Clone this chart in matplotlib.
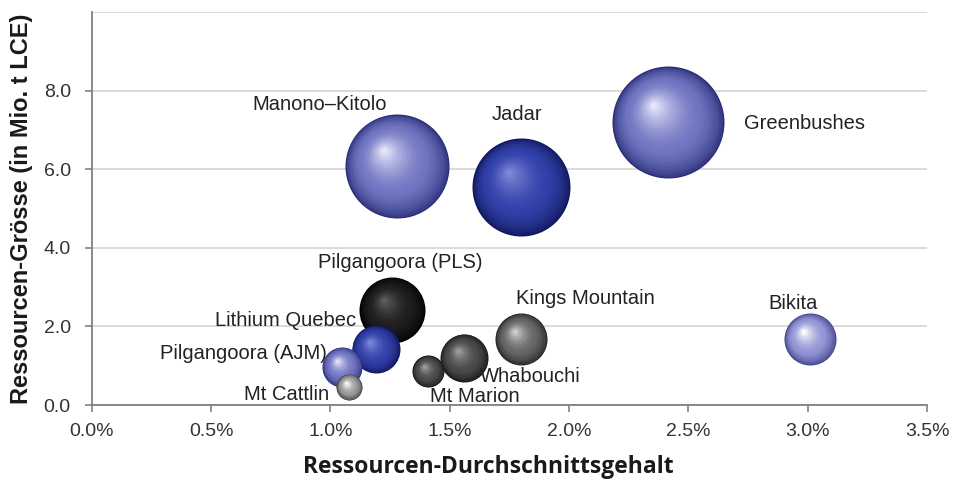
import numpy as np
import matplotlib
matplotlib.use("Agg")
import matplotlib.pyplot as plt
import matplotlib.colors as mcolors
from matplotlib.transforms import ScaledTranslation
from matplotlib.ticker import FuncFormatter, MultipleLocator, FixedLocator

# data
names = ["Manono\u2013Kitolo", "Jadar", "Greenbushes", "Pilgangoora (PLS)",
         "Lithium Quebec", "Pilgangoora (AJM)", "Mt Cattlin", "Mt Marion",
         "Whabouchi", "Kings Mountain", "Bikita"]
grade = [1.28, 1.80, 2.415, 1.26, 1.19, 1.05, 1.08, 1.41, 1.56, 1.80, 3.01]   # %
resource = [6.08, 5.55, 7.20, 2.42, 1.42, 0.97, 0.46, 0.86, 1.20, 1.68, 1.68]  # Mio. t LCE
bubble = [52, 49, 56, 33, 24, 20, 13, 16, 24, 26, 26]  # relative bubble radius

# colour groups (dark rim, body, highlight)
palette = {
    "lightblue": ("#2a2e78", "#7075c2", "#e4e4fa"),
    "paleblue": ("#3e4088", "#9294d6", "#ffffff"),
    "blue": ("#10165a", "#3140a8", "#7e88d8"),
    "black": ("#000000", "#1d1d1d", "#5e5e5e"),
    "darkgrey": ("#151515", "#4a4a4a", "#a0a0a0"),
    "grey": ("#222222", "#666666", "#d0d0d0"),
    "lightgrey": ("#3c3c3c", "#9a9a9a", "#ffffff"),
}
groups = ["lightblue", "blue", "lightblue", "black", "blue", "lightblue",
          "lightgrey", "darkgrey", "darkgrey", "grey", "paleblue"]

# label offsets from bubble centre, in pixels
label_off = [(-78, 62), (-4, 72), (136, -1), (8, 47), (-90, 29), (-99, 13),
             (-63, -8), (47, -25), (66, -19), (64, 40), (-17, 35)]

plt.rcParams['font.family'] = ['Liberation Sans', 'DejaVu Sans']

fig = plt.figure(figsize=(9.68, 4.82), dpi=100)
ax = fig.add_axes([91.7 / 968, 1 - 405 / 482, 835.3 / 968, 393 / 482])


def mix(c1, c2, t):
    a = np.array(mcolors.to_rgb(c1))
    b = np.array(mcolors.to_rgb(c2))
    return tuple(a + (b - a) * t)


def sphere(x, y, r, cols, z):
    dark, body, light = cols
    n = 40
    for i in range(n):
        t = i / (n - 1)
        rr = r * (1 - 0.95 * t)
        if t < 0.35:
            col = mix(dark, body, (t / 0.35) ** 0.6)
        else:
            col = mix(body, light, ((t - 0.35) / 0.65) ** 1.6)
        dx = -0.26 * r * t / fig.dpi
        dy = 0.30 * r * t / fig.dpi
        tr = ax.transData + ScaledTranslation(dx, dy, fig.dpi_scale_trans)
        ax.scatter([x], [y], s=(2 * rr * 72 / fig.dpi) ** 2, color=col,
                   linewidths=0, transform=tr, zorder=z)


for i in range(len(names)):
    sphere(grade[i], resource[i], bubble[i], palette[groups[i]], 3 + i * 0.01)
    ax.annotate(names[i], (grade[i], resource[i]), xytext=label_off[i],
                textcoords='offset pixels', ha='center', va='center',
                fontsize=14.5, color='#222222', zorder=10)

ax.set_xlim(0, 3.5)
ax.set_ylim(0, 10)
ax.xaxis.set_major_locator(MultipleLocator(0.5))
ax.yaxis.set_major_locator(FixedLocator([0, 2, 4, 6, 8]))
ax.yaxis.set_minor_locator(FixedLocator([10]))
ax.xaxis.set_major_formatter(FuncFormatter(lambda v, p: f"{v:.1f}%"))
ax.yaxis.set_major_formatter(FuncFormatter(lambda v, p: f"{v:.1f}"))
ax.grid(axis='y', which='both', color='#d4d4d4', lw=1.2)
ax.set_axisbelow(True)
for s in ['top', 'right']:
    ax.spines[s].set_visible(False)
for s in ['left', 'bottom']:
    ax.spines[s].set_color('#808080')
    ax.spines[s].set_linewidth(1.3)
ax.tick_params(colors='#808080', labelcolor='#333333', length=5, width=1.2)
ax.tick_params(axis='y', which='minor', length=0)
ax.tick_params(axis='x', pad=8, labelsize=14)
ax.tick_params(axis='y', pad=10, labelsize=14)

ax.set_ylabel("Ressourcen-Grösse (in Mio. t LCE)", fontsize=17,
              fontweight='bold', color='#1a1a1a')
ax.yaxis.set_label_coords(-(91.7 - 22) / 835.3, 0.5)
ax.yaxis.label.set_va('center')
ax.set_xlabel("Ressourcen-Durchschnittsgehalt", fontsize=16.5, fontweight='bold',
              color='#1a1a1a', family=['Open Sans', 'DejaVu Sans'])
ax.xaxis.set_label_coords((488 - 91.7) / 835.3, -(467 - 405) / 393)
ax.xaxis.label.set_va('center')

fig.savefig("out.png", dpi=100)
